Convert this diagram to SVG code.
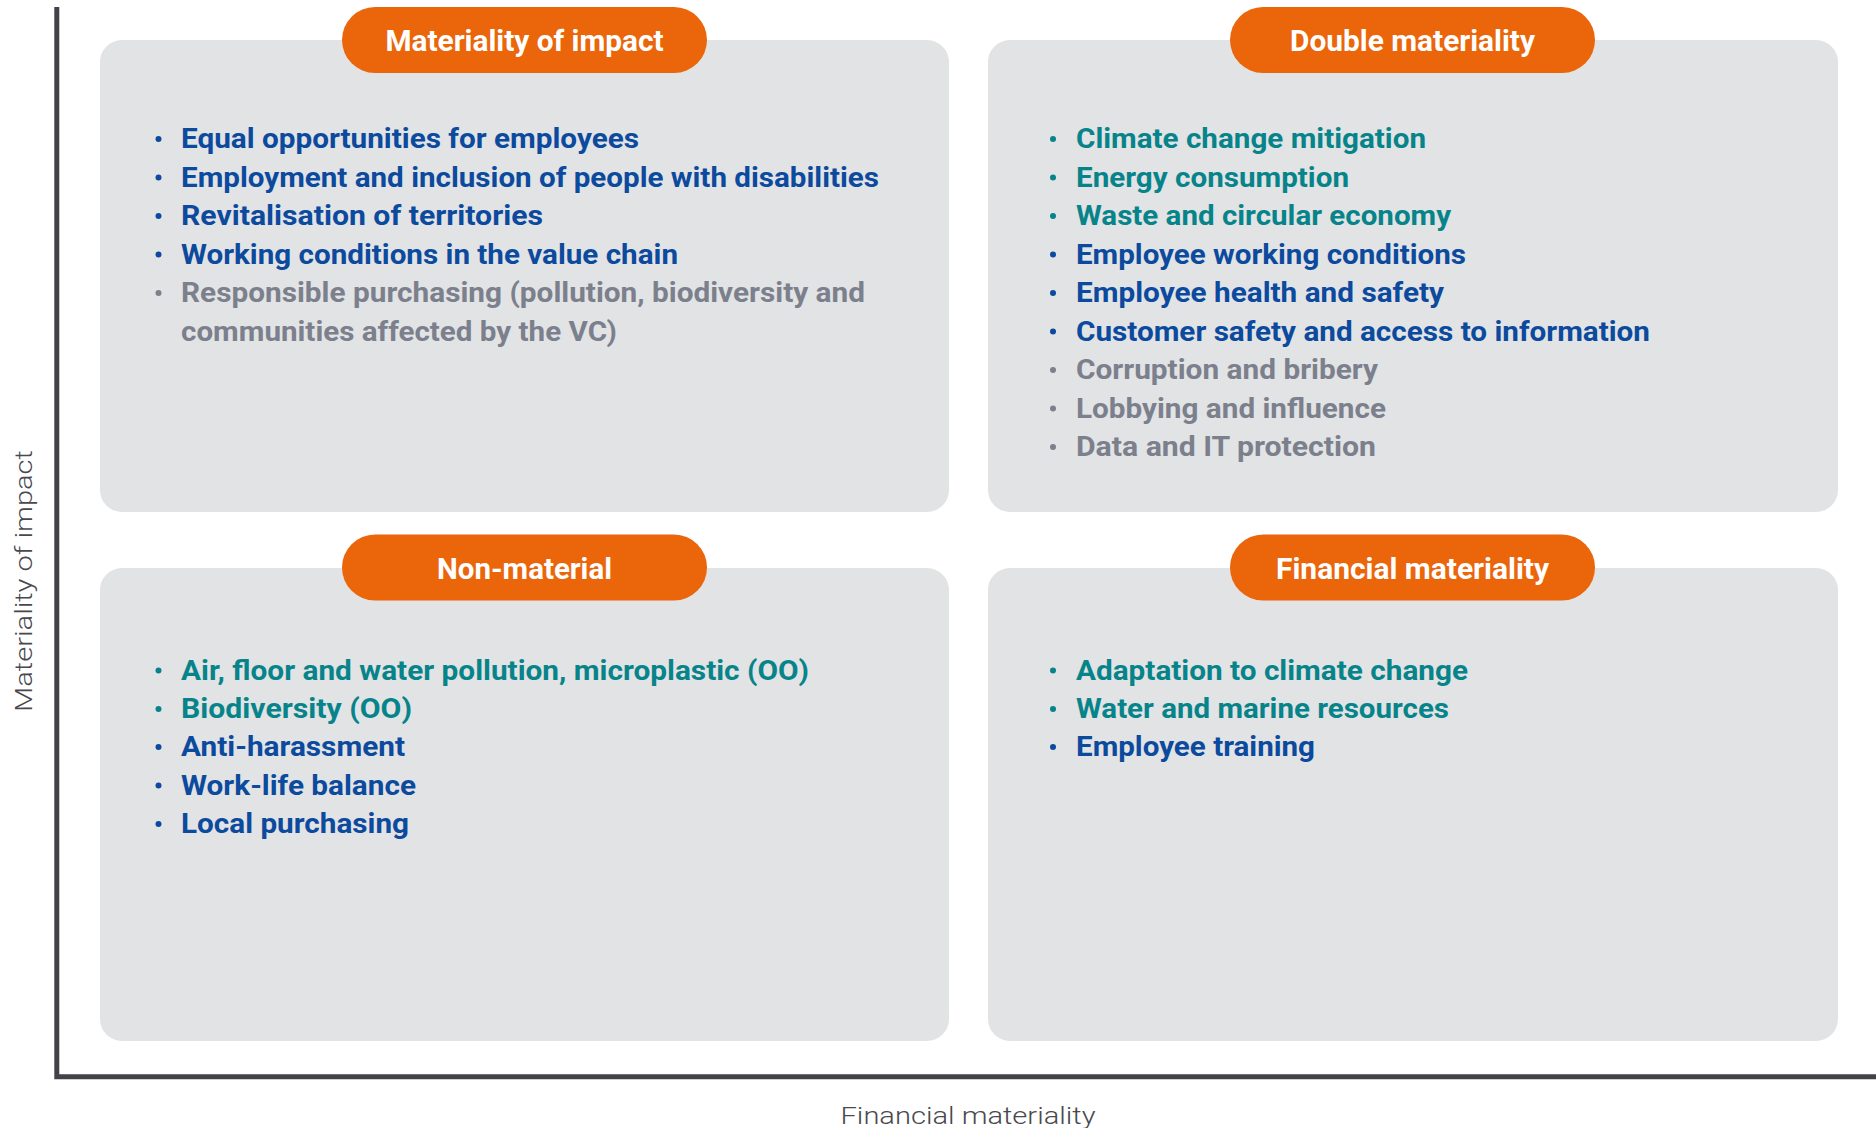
<svg xmlns="http://www.w3.org/2000/svg" width="1876" height="1128" viewBox="0 0 1876 1128">
<style>
.card{fill:#E2E3E5}
.pill{fill:#EB650A}
.pt{font-family:Roboto,"Liberation Sans",sans-serif;font-weight:700;font-size:30px;fill:#FFFFFF;text-anchor:middle}
.it{font-family:Roboto,"Liberation Sans",sans-serif;font-weight:700;font-size:27px}
.b{fill:#0C4A9E}
.t{fill:#07848A}
.g{fill:#7B808C}
.ax{stroke:#424248;stroke-width:5;fill:none}
.al{font-family:Roboto,"Liberation Sans",sans-serif;font-weight:300;font-size:24px;fill:#48484E;text-anchor:middle}
</style>
<rect width="1876" height="1128" fill="#FFFFFF"/>
<g id="axes">
<path class="ax" d="M56.8,7 V1076.8 H1876"/>
<text class="al" x="968" y="1124" textLength="255" lengthAdjust="spacingAndGlyphs">Financial materiality</text>
<text class="al" transform="translate(32,581) rotate(-90)" textLength="262" lengthAdjust="spacingAndGlyphs">Materiality of impact</text>
</g>
<g id="materiality-of-impact">
<rect class="card" x="100" y="40" width="849" height="472" rx="22"/>
<rect class="pill" x="342" y="7" width="365" height="66" rx="33"/>
<text class="pt" x="524.5" y="51" textLength="278" lengthAdjust="spacingAndGlyphs">Materiality of impact</text>
<g class="it">
<circle class="b" cx="158.5" cy="139" r="3"/><text class="b" x="181" y="148" textLength="458" lengthAdjust="spacingAndGlyphs">Equal opportunities for employees</text>
<circle class="b" cx="158.5" cy="177.5" r="3"/><text class="b" x="181" y="186.5" textLength="698" lengthAdjust="spacingAndGlyphs">Employment and inclusion of people with disabilities</text>
<circle class="b" cx="158.5" cy="216" r="3"/><text class="b" x="181" y="225" textLength="362" lengthAdjust="spacingAndGlyphs">Revitalisation of territories</text>
<circle class="b" cx="158.5" cy="254.5" r="3"/><text class="b" x="181" y="263.5" textLength="497" lengthAdjust="spacingAndGlyphs">Working conditions in the value chain</text>
<circle class="g" cx="158.5" cy="293" r="3"/><text class="g" x="181" y="302" textLength="684" lengthAdjust="spacingAndGlyphs">Responsible purchasing (pollution, biodiversity and</text>
<text class="g" x="181" y="340.5" textLength="436" lengthAdjust="spacingAndGlyphs">communities affected by the VC)</text>
</g>
</g>
<g id="double-materiality">
<rect class="card" x="988" y="40" width="850" height="472" rx="22"/>
<rect class="pill" x="1230" y="7" width="365" height="66" rx="33"/>
<text class="pt" x="1412.5" y="51" textLength="245" lengthAdjust="spacingAndGlyphs">Double materiality</text>
<g class="it">
<circle class="t" cx="1053" cy="139" r="3"/><text class="t" x="1076" y="148" textLength="350" lengthAdjust="spacingAndGlyphs">Climate change mitigation</text>
<circle class="t" cx="1053" cy="177.5" r="3"/><text class="t" x="1076" y="186.5" textLength="273" lengthAdjust="spacingAndGlyphs">Energy consumption</text>
<circle class="t" cx="1053" cy="216" r="3"/><text class="t" x="1076" y="225" textLength="375" lengthAdjust="spacingAndGlyphs">Waste and circular economy</text>
<circle class="b" cx="1053" cy="254.5" r="3"/><text class="b" x="1076" y="263.5" textLength="390" lengthAdjust="spacingAndGlyphs">Employee working conditions</text>
<circle class="b" cx="1053" cy="293" r="3"/><text class="b" x="1076" y="302" textLength="368" lengthAdjust="spacingAndGlyphs">Employee health and safety</text>
<circle class="b" cx="1053" cy="331.5" r="3"/><text class="b" x="1076" y="340.5" textLength="574" lengthAdjust="spacingAndGlyphs">Customer safety and access to information</text>
<circle class="g" cx="1053" cy="370" r="3"/><text class="g" x="1076" y="379" textLength="302" lengthAdjust="spacingAndGlyphs">Corruption and bribery</text>
<circle class="g" cx="1053" cy="408.5" r="3"/><text class="g" x="1076" y="417.5" textLength="310" lengthAdjust="spacingAndGlyphs">Lobbying and influence</text>
<circle class="g" cx="1053" cy="447" r="3"/><text class="g" x="1076" y="456" textLength="300" lengthAdjust="spacingAndGlyphs">Data and IT protection</text>
</g>
</g>
<g id="non-material">
<rect class="card" x="100" y="568" width="849" height="473" rx="22"/>
<rect class="pill" x="342" y="534.5" width="365" height="66" rx="33"/>
<text class="pt" x="524.5" y="578.5" textLength="175" lengthAdjust="spacingAndGlyphs">Non-material</text>
<g class="it">
<circle class="t" cx="158.5" cy="670.5" r="3"/><text class="t" x="181" y="679.5" textLength="628" lengthAdjust="spacingAndGlyphs">Air, floor and water pollution, microplastic (OO)</text>
<circle class="t" cx="158.5" cy="709" r="3"/><text class="t" x="181" y="718" textLength="231" lengthAdjust="spacingAndGlyphs">Biodiversity (OO)</text>
<circle class="b" cx="158.5" cy="747" r="3"/><text class="b" x="181" y="756" textLength="224" lengthAdjust="spacingAndGlyphs">Anti-harassment</text>
<circle class="b" cx="158.5" cy="785.5" r="3"/><text class="b" x="181" y="794.5" textLength="235" lengthAdjust="spacingAndGlyphs">Work-life balance</text>
<circle class="b" cx="158.5" cy="824" r="3"/><text class="b" x="181" y="833" textLength="228" lengthAdjust="spacingAndGlyphs">Local purchasing</text>
</g>
</g>
<g id="financial-materiality">
<rect class="card" x="988" y="568" width="850" height="473" rx="22"/>
<rect class="pill" x="1230" y="534.5" width="365" height="66" rx="33"/>
<text class="pt" x="1412.5" y="578.5" textLength="273" lengthAdjust="spacingAndGlyphs">Financial materiality</text>
<g class="it">
<circle class="t" cx="1053" cy="670.5" r="3"/><text class="t" x="1076" y="679.5" textLength="392" lengthAdjust="spacingAndGlyphs">Adaptation to climate change</text>
<circle class="t" cx="1053" cy="709" r="3"/><text class="t" x="1076" y="718" textLength="373" lengthAdjust="spacingAndGlyphs">Water and marine resources</text>
<circle class="b" cx="1053" cy="747" r="3"/><text class="b" x="1076" y="756" textLength="239" lengthAdjust="spacingAndGlyphs">Employee training</text>
</g>
</g>
</svg>
